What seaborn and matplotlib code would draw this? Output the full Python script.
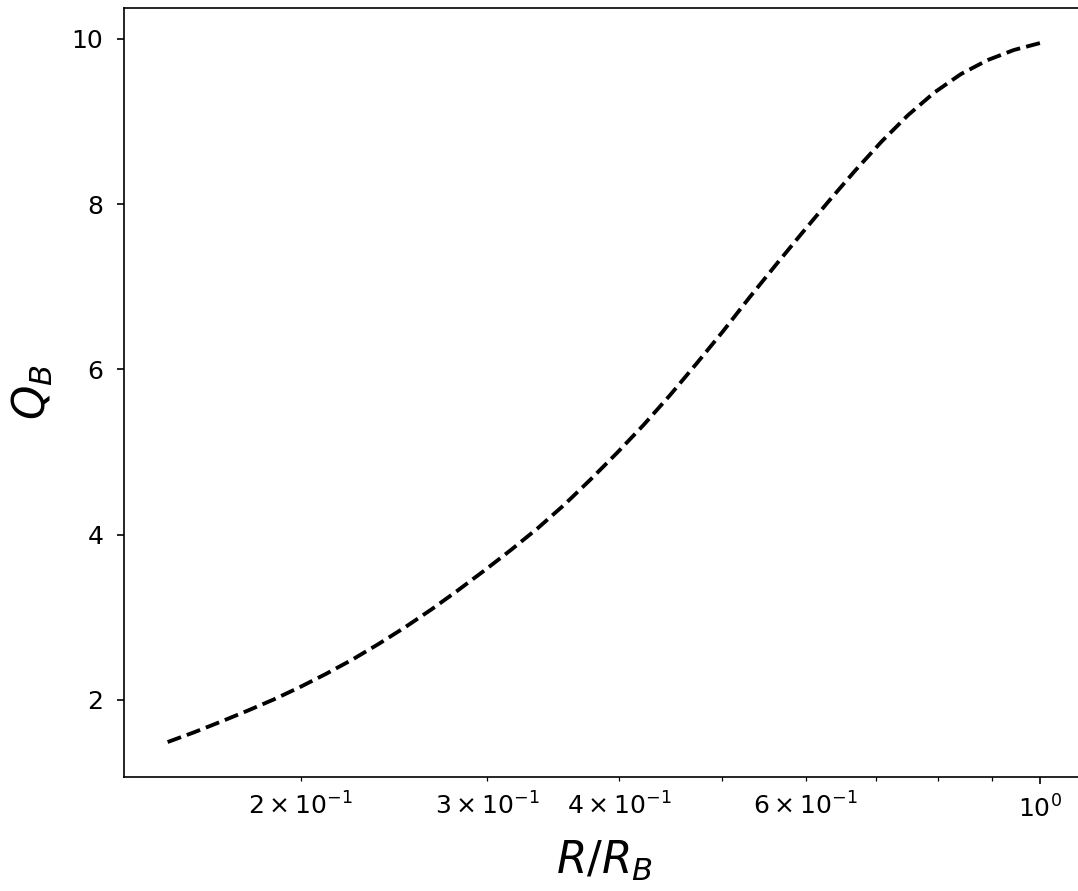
import matplotlib
matplotlib.use("Agg")
import matplotlib.pyplot as plt
import seaborn as sns
import pandas as pd

# Radius normalised to the boundary radius, and the corresponding Q_B profile
r_over_rb = [0.1497, 0.1585, 0.1679, 0.1778, 0.1884, 0.1995, 0.2113, 0.2239,
             0.2371, 0.2512, 0.2661, 0.2818, 0.2985, 0.3162, 0.3350, 0.3548,
             0.3758, 0.3981, 0.4217, 0.4467, 0.4732, 0.5012, 0.5309, 0.5623,
             0.5957, 0.6310, 0.6683, 0.7079, 0.7499, 0.7943, 0.8414, 0.8913,
             0.9441, 1.0000]
q_b = [1.490, 1.607, 1.734, 1.865, 2.003, 2.153, 2.315, 2.490,
       2.680, 2.883, 3.100, 3.330, 3.570, 3.818, 4.079, 4.361,
       4.669, 4.991, 5.328, 5.689, 6.071, 6.461, 6.870, 7.265,
       7.655, 8.037, 8.407, 8.759, 9.079, 9.354, 9.576, 9.744,
       9.867, 9.952]

df = pd.DataFrame({"R/R_B": r_over_rb, "Q_B": q_b})

W, H, DPI = 1078, 891, 150
fig = plt.figure(figsize=(W / DPI, H / DPI), dpi=DPI)
ax = fig.add_axes([124 / W, 114 / H, (1084 - 124) / W, (777 - 8) / H])

sns.lineplot(data=df, x="R/R_B", y="Q_B", ax=ax, color="black",
             linestyle="--", linewidth=1.85, sort=False, estimator=None)

ax.set_xscale("log")
ax.set_yticks([2, 4, 6, 8, 10])
ax.set_xlabel(r"$R/R_B$", fontsize=21, labelpad=8)
ax.set_ylabel(r"$Q_B$", fontsize=21, labelpad=8)
ax.tick_params(axis="both", which="both", labelsize=12)
ax.tick_params(axis="x", which="both", pad=5.2)
ax.tick_params(axis="y", which="both", pad=6.4)

fig.savefig("out.png", dpi=DPI)
